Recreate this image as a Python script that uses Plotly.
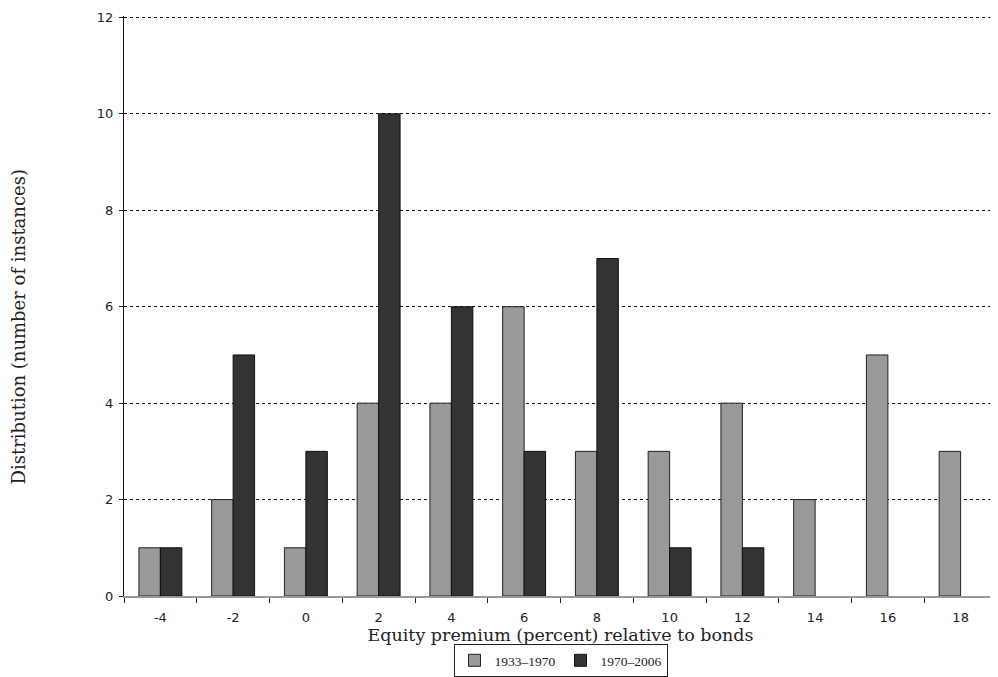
import plotly.graph_objects as go

categories = ["-4", "-2", "0", "2", "4", "6", "8", "10", "12", "14", "16", "18"]
series_1933_1970 = [1, 2, 1, 4, 4, 6, 3, 3, 4, 2, 5, 3]
series_1970_2006 = [1, 5, 3, 10, 6, 3, 7, 1, 1, None, None, None]
y_ticks = [0, 2, 4, 6, 8, 10, 12]

SERIF = "DejaVu Serif"
SANS = "DejaVu Sans"
LEG = "Liberation Serif"

fig = go.Figure()
fig.add_trace(go.Bar(
    x=categories, y=series_1933_1970, name="1933\u20131970",
    marker=dict(color="#999999", line=dict(color="#222222", width=1)),
))
fig.add_trace(go.Bar(
    x=categories, y=series_1970_2006, name="1970\u20132006",
    marker=dict(color="#333333", line=dict(color="#111111", width=1)),
))

fig.add_annotation(
    text="Distribution (number of instances)", textangle=-90,
    xref="paper", yref="paper", x=-0.1214, y=0.463,
    xanchor="center", yanchor="middle", showarrow=False,
    font=dict(family=SERIF, size=18, color="#222222"),
)

fig.update_layout(
    width=990, height=680,
    margin=dict(l=116, r=1, t=8, b=92),
    plot_bgcolor="white", paper_bgcolor="white",
    barmode="group", bargap=0.41, bargroupgap=0,
    font=dict(family=SANS, size=13, color="#222222"),
    showlegend=True,
    legend=dict(
        orientation="h", x=0.5, xanchor="center", y=-0.0828, yanchor="top",
        bordercolor="#222222", borderwidth=1,
        font=dict(family=LEG, size=13.5, color="#222222"),
        itemwidth=30, traceorder="normal",
    ),
    xaxis=dict(
        type="category", tickson="boundaries", ticks="outside", ticklen=5,
        tickcolor="#222222", showline=True, linecolor="#999999", linewidth=2,
        tickfont=dict(family=SANS, size=13), ticklabelstandoff=8,
        title=dict(text="Equity premium (percent) relative to bonds",
                   font=dict(family=SERIF, size=17.5), standoff=0),
        automargin=False,
    ),
    yaxis=dict(
        range=[0, 12.03], tickvals=y_ticks, ticks="outside", ticklen=4,
        tickcolor="#222222", showline=True, linecolor="#111111", linewidth=1,
        showgrid=True, gridcolor="#111111", griddash="dot", gridwidth=1,
        zeroline=False, automargin=False, ticklabelstandoff=3,
        tickfont=dict(family=SANS, size=13),
    ),
)

fig.write_html("out.html")
